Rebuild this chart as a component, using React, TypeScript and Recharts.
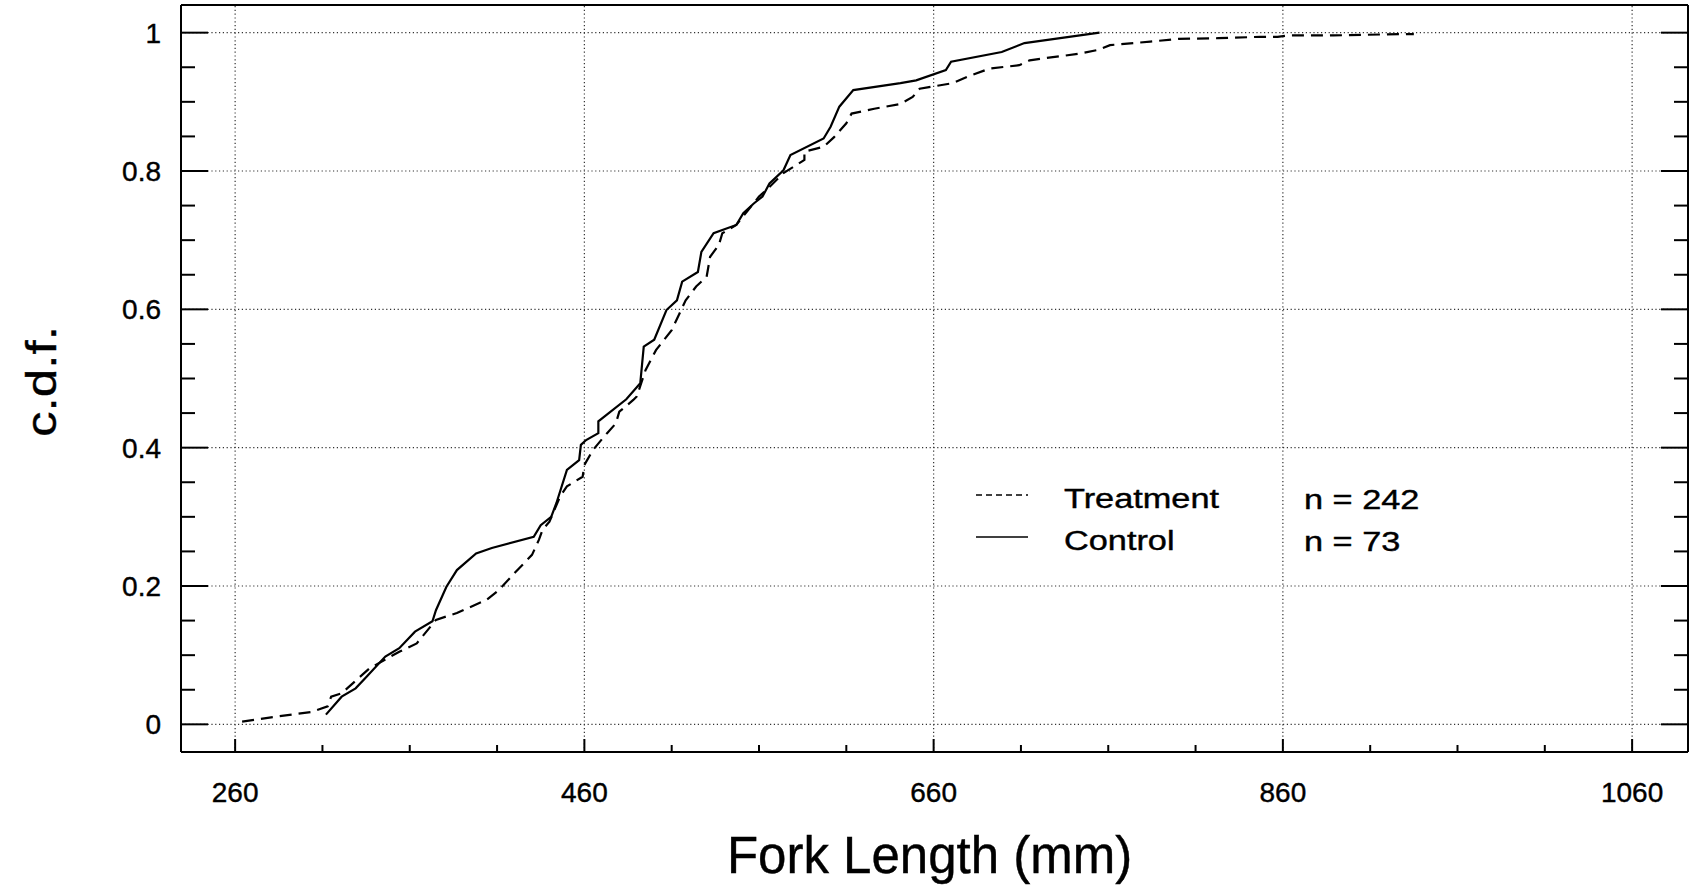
import React from 'react'
import { LineChart, Line, XAxis, YAxis, ReferenceLine, Legend, Label } from 'recharts'

// values (fork length in mm, cumulative fraction)
const TREATMENT_LEN = [
  264, 283, 304, 313, 315, 321, 337, 354, 364, 375, 387, 404, 411, 419, 430, 434, 436, 440,
  446, 450, 459, 460, 465, 473, 478, 480, 488, 490, 495, 501, 510, 518, 524, 530, 532, 537,
  539, 547, 553, 560, 566, 574, 586, 586, 597, 603, 610, 613, 626, 641, 648, 652, 671, 679,
  692, 709, 715, 723, 733, 744, 754, 761, 784, 800, 823, 847, 857, 863, 889, 928, 935,
]
const TREATMENT_CDF = [
  0.004, 0.011, 0.018, 0.026, 0.04, 0.045, 0.081, 0.105, 0.117, 0.151, 0.161, 0.18, 0.194,
  0.216, 0.245, 0.267, 0.281, 0.293, 0.329, 0.344, 0.358, 0.375, 0.397, 0.421, 0.435, 0.452,
  0.469, 0.474, 0.512, 0.541, 0.57, 0.613, 0.633, 0.647, 0.676, 0.693, 0.71, 0.722, 0.741,
  0.763, 0.777, 0.797, 0.816, 0.828, 0.835, 0.849, 0.869, 0.883, 0.89, 0.897, 0.907, 0.919,
  0.927, 0.936, 0.948, 0.953, 0.96, 0.963, 0.966, 0.97, 0.975, 0.982, 0.987, 0.991, 0.992,
  0.994, 0.994, 0.996, 0.996, 0.998, 0.998,
]
const CONTROL_LEN = [
  312, 321, 329, 335, 346, 354, 363, 373, 375, 381, 387, 398, 407, 431, 435, 441, 444, 450,
  457, 458, 461, 468, 468, 484, 492, 494, 500, 507, 513, 516, 525, 527, 534, 547, 551, 557,
  562, 566, 574, 578, 597, 601, 606, 614, 641, 650, 667, 670, 699, 712, 755,
]
const CONTROL_CDF = [
  0.014, 0.04, 0.052, 0.068, 0.098, 0.11, 0.134, 0.149, 0.165, 0.199, 0.223, 0.247, 0.255,
  0.271, 0.288, 0.3, 0.32, 0.368, 0.382, 0.404, 0.411, 0.421, 0.438, 0.47, 0.493, 0.546,
  0.556, 0.599, 0.613, 0.64, 0.654, 0.683, 0.71, 0.722, 0.739, 0.753, 0.763, 0.782, 0.801,
  0.823, 0.847, 0.864, 0.893, 0.917, 0.927, 0.931, 0.946, 0.958, 0.972, 0.985, 1.0,
]
const SERIES_NAMES = ['Treatment', 'Control']
const SERIES_N = [242, 73]

const X_MAJOR = [260, 460, 660, 860, 1060]
const X_TICKS = [260, 310, 360, 410, 460, 510, 560, 610, 660, 710, 760, 810, 860, 910, 960, 1010, 1060]
const Y_MAJOR = [0, 0.2, 0.4, 0.6, 0.8, 1]
const Y_TICKS = [
  0, 0.05, 0.1, 0.15, 0.2, 0.25, 0.3, 0.35, 0.4, 0.45, 0.5, 0.55, 0.6, 0.65, 0.7, 0.75, 0.8,
  0.85, 0.9, 0.95, 1,
]

const treatment = TREATMENT_LEN.map((len, i) => ({ len, cdf: TREATMENT_CDF[i] }))
const control = CONTROL_LEN.map((len, i) => ({ len, cdf: CONTROL_CDF[i] }))

const X_DOMAIN = [229, 1092]
const Y_DOMAIN = [-0.04, 1.04]
const FONT = '"Liberation Sans", Arial, Helvetica, sans-serif'
const TREAT_DASH = '12 7'
// scanned type looks a bit heavier than a clean render
const ink = { fill: '#000', stroke: '#000', strokeWidth: 0.4, fontFamily: FONT }

const isMajorY = (v: number) => Y_MAJOR.some((m) => Math.abs(m - v) < 1e-9)

// ticks point into the frame, like the original
const BottomTick = (props: any) => {
  const { x, y, payload } = props
  const major = X_MAJOR.includes(payload.value)
  return (
    <g>
      <line x1={x} x2={x} y1={y} y2={y - (major ? 13 : 7)} stroke="#000" strokeWidth={2} />
      {major && (
        <text x={x} y={y + 50} textAnchor="middle" fontSize={28} {...ink}>
          {payload.value}
        </text>
      )}
    </g>
  )
}

const TopTick = (props: any) => {
  const { x, y, payload } = props
  const major = X_MAJOR.includes(payload.value)
  return <line x1={x} x2={x} y1={y} y2={y + (major ? 14 : 7)} stroke="#000" strokeWidth={2} />
}

const LeftTick = (props: any) => {
  const { x, y, payload } = props
  const major = isMajorY(payload.value)
  return (
    <g>
      <line x1={x} x2={x + (major ? 27 : 14)} y1={y} y2={y} stroke="#000" strokeWidth={2} />
      {major && (
        <text x={x - 20} y={y + 10} textAnchor="end" fontSize={28} {...ink}>
          {String(payload.value)}
        </text>
      )}
    </g>
  )
}

const RightTick = (props: any) => {
  const { x, y, payload } = props
  const major = isMajorY(payload.value)
  return <line x1={x} x2={x - (major ? 27 : 14)} y1={y} y2={y} stroke="#000" strokeWidth={2} />
}

const XTitle = (props: any) => {
  const { x, y, width } = props.viewBox
  return (
    <text
      transform={`translate(${x + width / 2 - 5},${y + 121})`}
      textAnchor="middle"
      fontSize={51}
      {...ink}
    >
      Fork Length (mm)
    </text>
  )
}

const YTitle = (props: any) => {
  const { x, y, height } = props.viewBox
  return (
    <text
      transform={`translate(${x + 56},${y + height / 2 + 3}) rotate(-90) scale(1.22,1)`}
      textAnchor="middle"
      fontSize={42}
      {...ink}
    >
      c.d.f.
    </text>
  )
}

const LegendBox = ({ payload }: any) => {
  const items = [...(payload || [])].sort(
    (a: any, b: any) => SERIES_NAMES.indexOf(a.value) - SERIES_NAMES.indexOf(b.value)
  )
  return (
    <svg width={480} height={100}>
      {items.map((item: any, i: number) => {
        const yy = 25 + i * 42
        const dashed = item.value === 'Treatment'
        return (
          <g key={item.value}>
            <line
              x1={16}
              x2={68}
              y1={yy}
              y2={yy}
              stroke="#000"
              strokeWidth={1.6}
              strokeDasharray={dashed ? '6 4' : undefined}
            />
            <text transform={`translate(104,${yy + 13}) scale(1.27,1)`} fontSize={27} {...ink}>
              {item.value}
            </text>
            <text transform={`translate(344,${yy + 14}) scale(1.27,1)`} fontSize={27} {...ink}>
              {`n = ${SERIES_N[SERIES_NAMES.indexOf(item.value)]}`}
            </text>
          </g>
        )
      })}
    </svg>
  )
}

const gridStyle = { stroke: '#333', strokeWidth: 1.2, strokeDasharray: '1.2 2.6' }
const frame = { stroke: '#000', strokeWidth: 2 }

export default function App() {
  return (
    <div style={{ position: 'absolute', left: 0, top: 0, background: '#fff' }}>
      <LineChart width={1690} height={890} margin={{ top: 4, right: 1, bottom: 0, left: 0 }}>
        <XAxis
          xAxisId="b"
          type="number"
          dataKey="len"
          domain={X_DOMAIN}
          allowDataOverflow
          ticks={X_TICKS}
          interval={0}
          tickSize={0}
          tickMargin={0}
          tickLine={false}
          tick={BottomTick}
          axisLine={frame}
          height={138}
        >
          <Label content={XTitle} />
        </XAxis>
        <XAxis
          xAxisId="t"
          orientation="top"
          type="number"
          domain={X_DOMAIN}
          allowDataOverflow
          ticks={X_TICKS}
          interval={0}
          tickSize={0}
          tickMargin={0}
          tickLine={false}
          tick={TopTick}
          axisLine={frame}
          height={1}
        />
        <YAxis
          yAxisId="l"
          type="number"
          domain={Y_DOMAIN}
          allowDataOverflow
          ticks={Y_TICKS}
          interval={0}
          tickSize={0}
          tickMargin={0}
          tickLine={false}
          tick={LeftTick}
          axisLine={frame}
          width={181}
        >
          <Label content={YTitle} />
        </YAxis>
        <YAxis
          yAxisId="r"
          orientation="right"
          type="number"
          domain={Y_DOMAIN}
          allowDataOverflow
          ticks={Y_TICKS}
          interval={0}
          tickSize={0}
          tickMargin={0}
          tickLine={false}
          tick={RightTick}
          axisLine={frame}
          width={1}
        />

        {X_MAJOR.map((v) => (
          <ReferenceLine key={`gx-${v}`} xAxisId="b" yAxisId="l" x={v} {...gridStyle} />
        ))}
        {Y_MAJOR.map((v) => (
          <ReferenceLine key={`gy-${v}`} xAxisId="b" yAxisId="l" y={v} {...gridStyle} />
        ))}

        <Line
          xAxisId="b"
          yAxisId="l"
          data={treatment}
          dataKey="cdf"
          name="Treatment"
          type="linear"
          stroke="#000"
          strokeWidth={2.2}
          strokeDasharray={TREAT_DASH}
          dot={false}
          activeDot={false}
          isAnimationActive={false}
        />
        <Line
          xAxisId="b"
          yAxisId="l"
          data={control}
          dataKey="cdf"
          name="Control"
          type="linear"
          stroke="#000"
          strokeWidth={2.2}
          dot={false}
          activeDot={false}
          isAnimationActive={false}
        />

        <Legend
          layout="horizontal"
          verticalAlign="middle"
          align="center"
          content={LegendBox}
          wrapperStyle={{ left: 960, top: 470, width: 480, height: 100 }}
        />
      </LineChart>
    </div>
  )
}
